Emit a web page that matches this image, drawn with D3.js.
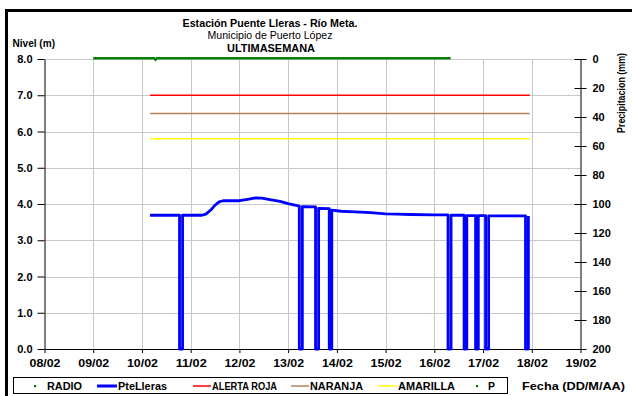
<!DOCTYPE html>
<html><head><meta charset="utf-8">
<script src="https://cdn.jsdelivr.net/npm/d3@7"></script>
<style>
html,body{margin:0;padding:0;background:#fff;}
svg{display:block;font-family:"Liberation Sans",Arial,sans-serif;}
</style></head>
<body><svg id="c" width="632" height="396"></svg>
<script>
// ---- data ----
const xTickLabels = ["08/02","09/02","10/02","11/02","12/02","13/02","14/02","15/02","16/02","17/02","18/02","19/02"];
const levelTicks = [0,1,2,3,4,5,6,7,8];
const precipTicks = [0,20,40,60,80,100,120,140,160,180,200];

const levelTimes = [
 "10/02 04:00","10/02 12:00","10/02 18:30","10/02 18:30","10/02 20:00","10/02 20:00",
 "11/02 05:30","11/02 07:30","11/02 10:00","11/02 12:00","11/02 14:00","11/02 16:00",
 "12/02 00:00","12/02 04:00","12/02 08:00","12/02 11:00","12/02 15:00","12/02 20:00",
 "13/02 00:00","13/02 05:30","13/02 05:30","13/02 07:00","13/02 07:00",
 "13/02 13:30","13/02 13:30","13/02 15:00","13/02 15:00",
 "13/02 20:15","13/02 20:15","13/02 21:30","13/02 21:30",
 "14/02 02:00","14/02 09:00","14/02 16:30","15/02 00:00","15/02 06:00","15/02 12:00","16/02 00:00",
 "16/02 06:45","16/02 06:45","16/02 08:15","16/02 08:15",
 "16/02 14:40","16/02 14:40","16/02 16:00","16/02 16:00",
 "16/02 20:20","16/02 20:20","16/02 21:40","16/02 21:40",
 "17/02 01:15","17/02 01:15","17/02 02:45","17/02 02:45",
 "17/02 20:55","17/02 20:55","17/02 22:20","17/02 22:20"
];
const levelValues = [
 3.69,3.69,3.69,0,0,3.69,
 3.69,3.72,3.84,3.97,4.06,4.09,
 4.09,4.13,4.17,4.16,4.12,4.07,
 4.01,3.94,0,0,3.93,
 3.92,0,0,3.88,
 3.87,0,0,3.83,
 3.80,3.78,3.76,3.73,3.72,3.71,3.70,
 3.70,0,0,3.69,
 3.69,0,0,3.68,
 3.68,0,0,3.68,
 3.68,0,0,3.67,
 3.67,0,0,3.67
];

const alertNames = ["ALERTA ROJA","NARANJA","AMARILLA"];
const alertValues = [7.0,6.5,5.8];
const alertColors = ["#ff0000","#b5835a","#ffff00"];
const alertStart = "10/02 04:00";
const alertEnd = "17/02 23:00";

const precipTimes = ["09/02 00:00","10/02 06:00","10/02 06:40","10/02 07:20","16/02 08:00"];
const precipValues = [0,0,1,0,0];

// ---- chart ----
const parse = d3.timeParse("%d/%m %H:%M");
const svg = d3.select("#c");
const x = d3.scaleTime().domain([parse("08/02 00:00"), parse("19/02 00:00")]).range([44.5, 580.5]);
const y = d3.scaleLinear().domain([0,8]).range([349, 59]);
const yP = d3.scaleLinear().domain([0,200]).range([59, 349]);
const tickDates = xTickLabels.map(s => parse(s + " 00:00"));

// frame
svg.append("rect").attr("x",6.5).attr("y",10.5).attr("width",800).attr("height",600)
  .attr("fill","none").attr("stroke","#000").attr("stroke-width",3);

// grid
const grid = svg.append("g").attr("stroke","#c8c8c8").attr("stroke-width",1);
levelTicks.filter(d=>d>0).forEach(d=>{
  grid.append("line").attr("x1",x.range()[0]).attr("x2",x.range()[1])
    .attr("y1",Math.round(y(d))+0.5).attr("y2",Math.round(y(d))+0.5);
});
tickDates.slice(1,-1).forEach(d=>{
  grid.append("line").attr("x1",Math.round(x(d))+0.5).attr("x2",Math.round(x(d))+0.5)
    .attr("y1",y(8)).attr("y2",y(0));
});

// axes
const fontAxis = g => g.selectAll("text").attr("font-size",11).attr("font-weight","bold")
   .attr("fill","#000").attr("font-family","'Liberation Sans',Arial,sans-serif");
const gl = svg.append("g").attr("transform","translate(44.5,0)")
  .call(d3.axisLeft(y).tickValues(levelTicks).tickFormat(d3.format(".1f")).tickSize(7).tickPadding(5).tickSizeOuter(0))
  .call(fontAxis);
const gr = svg.append("g").attr("transform","translate(580.5,0)")
  .call(d3.axisRight(yP).tickValues(precipTicks).tickSize(6).tickPadding(6).tickSizeOuter(0))
  .call(fontAxis);
gr.selectAll(".tick line").attr("x1",-6);
const gb = svg.append("g").attr("transform","translate(0,349)")
  .call(d3.axisBottom(x).tickValues(tickDates).tickFormat(d3.timeFormat("%d/%m")).tickSize(4).tickPadding(6).tickSizeOuter(0))
  .call(fontAxis);
gb.selectAll("text").attr("textLength",31).attr("lengthAdjust","spacingAndGlyphs");
[gl,gr,gb].forEach(g=>g.selectAll("path,line").attr("stroke","#000"));

// alert lines
alertValues.forEach((v,i)=>{
  svg.append("line").attr("x1",x(parse(alertStart))).attr("x2",x(parse(alertEnd)))
    .attr("y1",y(v)).attr("y2",y(v)).attr("stroke",alertColors[i]).attr("stroke-width",1.5);
});

// level line
const levelData = levelTimes.map((t,i)=>({t:parse(t), v:levelValues[i]}));
svg.append("path").datum(levelData)
  .attr("d", d3.line().x(d=>x(d.t)).y(d=>y(d.v)))
  .attr("fill","none").attr("stroke","#0000ff").attr("stroke-width",2.8).attr("stroke-linejoin","round");

// precipitation
const precipData = precipTimes.map((t,i)=>({t:parse(t), v:precipValues[i]}));
svg.append("path").datum(precipData)
  .attr("d", d3.line().x(d=>x(d.t)).y(d=>yP(d.v)-0.8))
  .attr("fill","none").attr("stroke","#008000").attr("stroke-width",2.4);

// titles
const T = (txt, xx, yy, opts={}) => {
  const t = svg.append("text").attr("x",xx).attr("y",yy).text(txt)
    .attr("font-size",opts.size||11).attr("font-weight",opts.bold===false?"normal":"bold")
    .attr("text-anchor",opts.anchor||"start").attr("fill","#000");
  if (opts.len) t.attr("textLength",opts.len).attr("lengthAdjust","spacingAndGlyphs");
  return t;
};
T("Estación Puente Lleras - Río Meta.", 270, 27, {anchor:"middle", len:175});
T("Municipio de Puerto López", 270, 39, {anchor:"middle", bold:false, len:125});
T("ULTIMASEMANA", 271, 51.5, {anchor:"middle", len:88});
T("Nivel (m)", 12.5, 47, {len:42.5});
T("Precipitacion (mm)", 0, 0, {anchor:"middle", len:80, size:11.5})
  .attr("transform","translate(625,93) rotate(-90)");
T("Fecha (DD/M/AA)", 522, 390, {len:103, size:11.5});

// legend
const lg = svg.append("g");
lg.append("rect").attr("x",13.5).attr("y",377.5).attr("width",494).attr("height",16)
  .attr("fill","#fff").attr("stroke","#000").attr("stroke-width",1);
const legendItems = [
  {name:"RADIO", type:"dot", color:"#008000", x0:35, tx:47, len:35},
  {name:"PteLleras", type:"line", color:"#0000ff", x0:97, x1:117, w:3, tx:118, len:49},
  {name:alertNames[0], type:"line", color:alertColors[0], x0:193, x1:211, w:1.5, tx:212, len:65},
  {name:alertNames[1], type:"line", color:alertColors[1], x0:291, x1:309, w:1.5, tx:310, len:53},
  {name:alertNames[2], type:"line", color:alertColors[2], x0:378, x1:397, w:1.5, tx:398, len:57},
  {name:"P", type:"dot", color:"#008000", x0:477, tx:488, len:7}
];
legendItems.forEach(it=>{
  if (it.type==="dot") lg.append("rect").attr("x",it.x0-1).attr("y",385).attr("width",2.2).attr("height",2.2).attr("fill",it.color);
  else lg.append("line").attr("x1",it.x0).attr("x2",it.x1).attr("y1",386).attr("y2",386).attr("stroke",it.color).attr("stroke-width",it.w);
  lg.append("text").attr("x",it.tx).attr("y",390).text(it.name).attr("font-size",11).attr("font-weight","bold").attr("fill","#000")
    .attr("textLength",it.len).attr("lengthAdjust","spacingAndGlyphs");
});
</script></body></html>
